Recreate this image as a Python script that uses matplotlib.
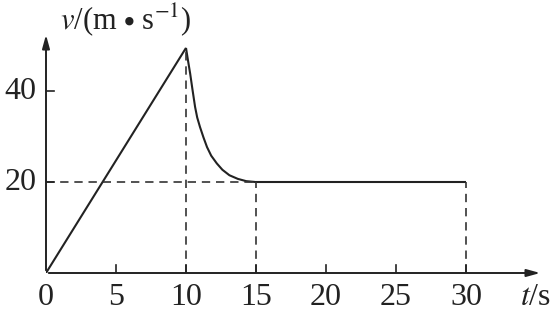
import matplotlib
matplotlib.use("Agg")
import matplotlib.pyplot as plt

plt.rcParams['font.family'] = ['Liberation Serif', 'DejaVu Serif']
plt.rcParams['mathtext.fontset'] = 'stix'

# v-t curve
t_ramp = [0, 10]
v_ramp = [0, 49.5]
t_decay = [10, 10.15, 10.3, 10.45, 10.65, 10.8, 11, 11.25, 11.5, 11.8,
           12.2, 12.6, 13.1, 13.7, 14.3, 15]
v_decay = [49.5, 46.6, 43.8, 40.6, 36.5, 34.2, 32.1, 29.8, 27.7, 25.8,
           24.1, 22.7, 21.5, 20.7, 20.2, 20]
t_flat = [15, 30]
v_flat = [20, 20]

x_ticks = [0, 5, 10, 15, 20, 25, 30]
y_ticks = [20, 40]

fig = plt.figure(figsize=(5.55, 3.15), dpi=100)
ax = fig.add_axes([46 / 555, 42 / 315, (543 - 46) / 555, (273 - 32) / 315])
ax.set_xlim(0, 35.5)
ax.set_ylim(0, 53)

for s in ax.spines.values():
    s.set_visible(False)

# axes with arrows
arrow = dict(arrowstyle='-|>,head_length=0.8,head_width=0.22', color='#222', lw=1.4)
ax.annotate('', xy=(35.5, 0), xytext=(0, 0), arrowprops=arrow, annotation_clip=False)
ax.annotate('', xy=(0, 53), xytext=(0, 0), arrowprops=arrow, annotation_clip=False)

line_kw = dict(color='#222', lw=1.5, solid_capstyle='butt', solid_joinstyle='round')
ax.plot(t_ramp, v_ramp, **line_kw)
ax.plot(t_decay, v_decay, **line_kw)
ax.plot(t_flat, v_flat, **line_kw)

dash_kw = dict(color='#333', lw=1.2, dashes=(5, 3.5))
ax.plot([0, 15], [20, 20], **dash_kw)
ax.plot([10, 10], [0, v_ramp[1]], **dash_kw)
ax.plot([15, 15], [0, 20], **dash_kw)
ax.plot([30, 30], [0, 20], **dash_kw)

# inward ticks
for x in x_ticks[1:]:
    ax.plot([x, x], [0, 1.8], color='#222', lw=1.2)
for y in y_ticks:
    ax.plot([0, 0.6], [y, y], color='#222', lw=1.2)

ax.set_xticks([])
ax.set_yticks([])

for x in x_ticks:
    ax.text(x, -2.3, str(x), ha='center', va='top', fontsize=23, color='#222')
for y in y_ticks:
    ax.text(-0.7, y, str(y), ha='right', va='center', fontsize=23, color='#222')

ax.text(35.0, -2.3, r'$t$/s', ha='center', va='top', fontsize=23, color='#222')
ax.text(1.0, 55.8, r'$v$/(m $\bullet$ s$^{-1}$)', ha='left', va='center', fontsize=22, color='#222')

fig.savefig('out.png', dpi=100)
